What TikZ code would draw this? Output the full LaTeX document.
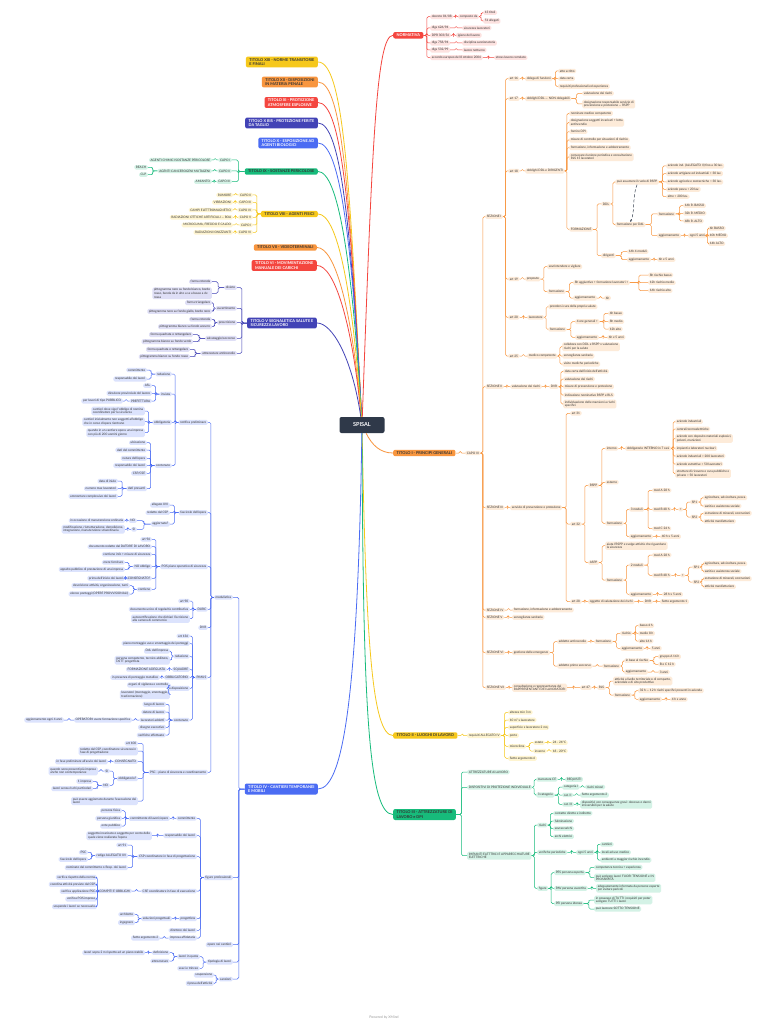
\documentclass[tikz,border=0pt]{standalone}
\usepackage{fontspec}
\setmainfont{Lato}
\usetikzlibrary{calc,arrows.meta}
\definecolor{cRed}{HTML}{F4463F}
\definecolor{lRed}{HTML}{FDE2E0}
\definecolor{cOr}{HTML}{F8963F}
\definecolor{lOr}{HTML}{FDEBD9}
\definecolor{cYe}{HTML}{F6C81C}
\definecolor{lYe}{HTML}{FEF4D0}
\definecolor{cGr}{HTML}{17BB7B}
\definecolor{lGr}{HTML}{D4F2E6}
\definecolor{cBl}{HTML}{4B6CF3}
\definecolor{lBl}{HTML}{DCE3FD}
\definecolor{cIn}{HTML}{4243B6}
\definecolor{lIn}{HTML}{DFDFF6}
\definecolor{cNa}{HTML}{2F3949}
\definecolor{tx}{HTML}{333333}
\newcommand\fs{\fontsize{3.1}{3.6}\selectfont}
\newcommand\fti{\fontsize{3.9}{4.5}\selectfont\bfseries}
\tikzset{
 box/.style={font=\fs, text=tx, inner xsep=1.6pt, inner ysep=1.1pt, rounded corners=1.5pt, align=left},
 rb/.style={box, anchor=west},
 lb/.style={box, anchor=east},
 title/.style={font=\fti, inner xsep=3.4pt, inner ysep=1.8pt, rounded corners=2pt, align=left},
 conn/.style={line width=.5pt, rounded corners=1.5pt},
 main/.style={line width=.8pt},
 rel/.style={draw=cNa, densely dashed, line width=.5pt, -{Stealth[length=2.2pt,width=2pt]}},
}
\newcommand\linkR[2]{\draw[conn] (#1.east) -| ($(#1.east)!.5!(#2.west)$) |- (#2.west);}
\newcommand\linkL[2]{\draw[conn] (#1.west) -| ($(#1.west)!.5!(#2.east)$) |- (#2.east);}
\newcommand\chR[5]{\node[rb] (#2) at (#3,#4) {#5}; \linkR{#1}{#2}}
\newcommand\chL[5]{\node[lb] (#2) at (#3,#4) {#5}; \linkL{#1}{#2}}
\begin{document}
\begin{tikzpicture}[x=1pt,y=-1pt]
\fill[white] (0,0) rectangle (768,1024);
\useasboundingbox (0,0) rectangle (768,1024);
\node[title, fill=cNa, text=white, font=\fontsize{5.5}{6}\selectfont\bfseries, minimum width=45pt, minimum height=16pt, align=center] (sp) at (362,425) {SPISAL};
\node[font=\fontsize{3.5}{4}\selectfont, text=black!40] (ft) at (384,1017) {Powered by XMind};

% ================= NORMATIVA
\begin{scope}[conn/.append style={draw=cRed}, box/.append style={fill=lRed}]
\node[title, fill=cRed, text=white, anchor=west] (norm) at (393,35.3) {NORMATIVA};
\draw[main, cRed] (sp) .. controls (372,150) and (376,35.3) .. (norm.west);
\chR{norm}{n1}{430}{16.7}{decreto 81/08}
\chR{n1}{n1a}{458}{16.7}{composto da}
\chR{n1a}{n1b}{483}{12.7}{13 titoli}
\chR{n1a}{n1c}{483}{21}{51 allegati}
\chR{norm}{n2}{430}{28}{dlgs 626/94}
\chR{n2}{n2a}{462}{28}{sicurezza lavoratori}
\chR{norm}{n3}{430}{35.3}{DPR 303/56}
\chR{n3}{n3a}{456}{35.3}{igiene del lavoro}
\chR{norm}{n4}{430}{43}{dlgs 758/94}
\chR{n4}{n4a}{462}{43}{disciplina sanzionatoria}
\chR{norm}{n5}{430}{50}{dlgs 532/99}
\chR{n5}{n5a}{462}{50}{lavoro notturno}
\chR{norm}{n6}{430}{57.7}{accordo europeo del 8 ottobre 2004}
\chR{n6}{n6a}{494}{57.7}{stress lavoro correlato}
\end{scope}

% ================= TITOLO I
\begin{scope}[conn/.append style={draw=cOr}, box/.append style={fill=lOr}]
\node[title, fill=cOr, text=tx, anchor=west] (t1) at (393,453) {TITOLO I - PRINCIPI GENERALI};
\draw[main, cOr] (sp) .. controls (372,445) and (380,453) .. (t1.west);
\chR{t1}{c3}{465}{453}{CAPO III}
\chR{c3}{s1}{485}{216.7}{SEZIONE I}
\chR{c3}{s2}{485}{386.7}{SEZIONE II}
\chR{c3}{s3}{485}{507.7}{SEZIONE III}
\chR{c3}{s4}{485}{610}{SEZIONE IV}
\chR{c3}{s5}{485}{617.3}{SEZIONE V}
\chR{c3}{s6}{485}{652.7}{SEZIONE VI}
\chR{c3}{s7}{485}{687.7}{SEZIONE VII}
% sezione I
\chR{s1}{a16}{508}{78.7}{art 16}
\chR{a16}{a16a}{525}{78.7}{delega di funzioni}
\chR{a16a}{a16b}{558}{71}{atto scritto}
\chR{a16a}{a16c}{558}{78.7}{data certa}
\chR{a16a}{a16d}{558}{86.3}{requisiti professionali ed esperienza}
\chR{s1}{a17}{508}{98.7}{art 17}
\chR{a17}{a17a}{525}{98.7}{obblighi DDL — NON delegabili}
\chR{a17a}{a17b}{582}{93.3}{valutazione dei rischi}
\chR{a17a}{a17c}{582}{104}{designazione responsabile servizio di\\prevenzione e protezione — RSPP}
\chR{s1}{a18}{508}{171}{art 18}
\chR{a18}{a18a}{525}{171}{obblighi DDL e DIRIGENTI}
\chR{a18a}{b1}{569}{113.3}{nominare medico competente}
\chR{a18a}{b2}{569}{122.5}{designazione soggetti incaricati + lotta\\antincendio}
\chR{a18a}{b3}{569}{131.7}{fornire DPI}
\chR{a18a}{b4}{569}{140}{misure di controllo per situazioni di rischio}
\chR{a18a}{b5}{569}{147.7}{formazione, informazione e addestramento}
\chR{a18a}{b6}{569}{157}{convocare riunione periodica e consultazione\\RLS 15 lavoratori}
\chR{a18a}{form}{569}{229.3}{FORMAZIONE}
\chR{form}{ddl}{601}{204}{DDL}
\chR{form}{dir}{601}{255.7}{dirigenti}
\chR{ddl}{pa}{615}{182}{può assumere il ruolo di RSPP}
\chR{ddl}{fd}{615}{224.7}{formazione per DdL}
\chR{pa}{pa1}{666}{166}{aziende ind. (ALLEGATO II) fino a 30 lav.}
\chR{pa}{pa2}{666}{173.7}{aziende artigiane ed industriali < 30 lav.}
\chR{pa}{pa3}{666}{182}{aziende agricole e zootecniche < 30 lav.}
\chR{pa}{pa4}{666}{189.3}{aziende pesca < 20 lav.}
\chR{pa}{pa5}{666}{196.7}{altre < 200 lav.}
\draw[rel] (pa.south) .. controls +(-5,12) and +(5,-10) .. (fd.north);
\chR{fd}{fd1}{657}{214}{formazione}
\chR{fd}{fd2}{657}{235.7}{aggiornamento}
\chR{fd1}{fd1a}{683}{205.7}{16h R. BASSO}
\chR{fd1}{fd1b}{683}{213.3}{32h R. MEDIO}
\chR{fd1}{fd1c}{683}{221}{48h R. ALTO}
\chR{fd2}{fd2a}{688}{235.7}{ogni 5 anni}
\chR{fd2a}{fd2b}{708}{228.3}{6h BASSO}
\chR{fd2a}{fd2c}{708}{235.7}{10h MEDIO}
\chR{fd2a}{fd2d}{708}{243.7}{14h ALTO}
\chR{dir}{dir1}{627}{251.7}{16h 4 moduli}
\chR{dir}{dir2}{627}{259.7}{aggiornamento}
\chR{dir2}{dir3}{657}{259.7}{6h x 5 anni}
\chR{s1}{a19}{508}{279}{art 19}
\chR{a19}{pre}{525}{279}{preposto}
\chR{pre}{pre1}{547}{266.7}{sovrintendere e vigilare}
\chR{pre}{pre2}{547}{291.7}{formazione}
\chR{pre2}{pre2a}{573}{282.7}{8h aggiuntive + formazione lavoratori +}
\chR{pre2}{pre2b}{573}{298}{aggiornamento}
\chR{pre2b}{pre2c}{604}{298}{6h}
\chR{pre2a}{pre3}{648}{275}{8h rischio basso}
\chR{pre2a}{pre4}{648}{282.7}{12h rischio medio}
\chR{pre2a}{pre5}{648}{290.7}{16h rischio alto}
\chR{s1}{a20}{508}{317.3}{art 20}
\chR{a20}{lav}{527}{317.3}{lavoratore}
\chR{lav}{lav1}{548}{306.7}{prendersi cura della propria salute}
\chR{lav}{lav2}{548}{329.3}{formazione}
\chR{lav2}{lav2a}{575}{321.7}{4 ore generali +}
\chR{lav2}{lav2b}{575}{337.3}{aggiornamento}
\chR{lav2a}{lav3}{608}{313.3}{4h basso}
\chR{lav2a}{lav4}{608}{321.7}{8h medio}
\chR{lav2a}{lav5}{608}{329}{12h alto}
\chR{lav2b}{lav6}{607}{337.3}{6h x 5 anni}
\chR{s1}{a25}{508}{356}{art 25}
\chR{a25}{mc}{527}{356}{medico competente}
\chR{mc}{mc1}{562}{346.7}{collabora con DDL e RSPP x valutazione\\rischi per la salute}
\chR{mc}{mc2}{562}{356}{sorveglianza sanitaria}
\chR{mc}{mc3}{562}{364}{visite mediche periodiche}
% sezione II
\chR{s2}{vr}{510}{386.7}{valutazione dei rischi}
\chR{vr}{dvr}{549}{386.7}{DVR}
\chR{dvr}{dvr1}{563}{371.3}{data certa dall'inizio dell'attività}
\chR{dvr}{dvr2}{563}{379}{valutazione dei rischi}
\chR{dvr}{dvr3}{563}{386.7}{misure di prevenzione e protezione}
\chR{dvr}{dvr4}{563}{395}{indicazione nominativo RSPP e RLS}
\chR{dvr}{dvr5}{563}{404}{individuazione delle mansioni a rischi\\specifici}
% sezione III
\chR{s3}{spp}{510}{507.7}{servizio di prevenzione e protezione}
\chR{spp}{a31}{570}{413.3}{art 31}
\chR{spp}{a32}{570}{524}{art 32}
\chR{spp}{a28}{570}{601.7}{art 28}
\chR{a28}{a28a}{588}{601.7}{oggetto di valutazione dei rischi}
\chR{a28a}{a28b}{643}{601.7}{DVR}
\chR{a28b}{a28c}{660}{601.7}{Sotto argomento 1}
\chR{a32}{rspp}{588}{485.3}{RSPP}
\chR{a32}{aspp}{588}{562.7}{ASPP}
\chR{rspp}{int}{605}{448.3}{interno}
\chR{rspp}{est}{605}{482.3}{esterno}
\chR{rspp}{rf}{605}{523.3}{formazione}
\chR{int}{int1}{625}{448.3}{obbligatorio INTERNO in 7 casi}
\chR{int1}{cs1}{675}{421.7}{aziende industriali}
\chR{int1}{cs2}{675}{429}{centrali termoelettriche}
\chR{int1}{cs3}{675}{438.5}{aziende con deposito materiali esplosivi,\\polveri, munizioni}
\chR{int1}{cs4}{675}{448.3}{impianti e laboratori nucleari}
\chR{int1}{cs5}{675}{456}{aziende industriali > 200 lavoratori}
\chR{int1}{cs6}{675}{464}{aziende estrattive > 50 lavoratori}
\chR{int1}{cs7}{675}{473.5}{strutture di ricovero e cura pubbliche e\\private > 50 lavoratori}
\chR{rf}{rf1}{629}{509.3}{3 moduli}
\chR{rf}{rf2}{629}{536.7}{aggiornamento}
\chR{rf2}{rf3}{660}{536.7}{40 h x 5 anni}
\chR{rf1}{ma}{652}{490.3}{mod A 28 h}
\chR{rf1}{mb}{652}{509.3}{mod B 48 h}
\chR{rf1}{mcx}{652}{528.7}{mod C 24 h}
\chR{mb}{pl}{678}{509.3}{+}
\chR{pl}{sp1}{690}{502}{SP1}
\chR{pl}{sp2}{690}{517}{SP2}
\chR{sp1}{sp1a}{703}{497.7}{agricoltura, selvicoltura, pesca}
\chR{sp1}{sp1b}{703}{506}{sanità e assistenza sociale}
\chR{sp2}{sp2a}{703}{513.3}{estrazione di minerali, costruzioni}
\chR{sp2}{sp2b}{703}{521.3}{attività manifatturiere}
\chR{aspp}{as1}{605}{545.7}{aiuta l'RSPP e svolge attività che riguardano\\la sicurezza}
\chR{aspp}{as2}{605}{580}{formazione}
\chR{as2}{as2a}{629}{565}{2 moduli}
\chR{as2}{as2b}{629}{594.3}{aggiornamento}
\chR{as2b}{as2c}{662}{594.3}{28 h x 5 anni}
\chR{as2a}{ama}{652}{555}{mod A 28 h}
\chR{as2a}{amb}{652}{575.3}{mod B 48 h}
\chR{amb}{apl}{680}{575.3}{+}
\chR{apl}{asp1}{692}{567}{SP1}
\chR{apl}{asp2}{692}{582}{SP2}
\chR{asp1}{asp1a}{703}{563.7}{agricoltura, selvicoltura, pesca}
\chR{asp1}{asp1b}{703}{571.3}{sanità e assistenza sociale}
\chR{asp2}{asp2a}{703}{578.7}{estrazione di minerali, costruzioni}
\chR{asp2}{asp2b}{703}{586.7}{attività manifatturiere}
% sezioni IV - VII
\chR{s4}{s4a}{512}{610}{formazione, informazione e addestramento}
\chR{s5}{s5a}{512}{617.3}{sorveglianza sanitaria}
\chR{s6}{ge}{512}{652.7}{gestione delle emergenze}
\chR{ge}{aa}{557}{641.7}{addetto antincendio}
\chR{ge}{ap}{557}{666}{addetto primo soccorso}
\chR{aa}{aaf}{594}{641.7}{formazione}
\chR{aaf}{aar}{620}{633.3}{rischio}
\chR{aaf}{aag}{620}{648.3}{aggiornamento}
\chR{aar}{aar1}{638}{625.7}{basso 4 h}
\chR{aar}{aar2}{638}{633.3}{medio 8 h}
\chR{aar}{aar3}{638}{641}{alto 16 h}
\chR{aag}{aag1}{650}{648.3}{5 anni}
\chR{ap}{apf}{602}{666}{formazione}
\chR{apf}{apr}{624}{660.7}{in base al rischio}
\chR{apf}{apg}{624}{672}{aggiornamento}
\chR{apr}{apr1}{658}{656.7}{gruppo A 16 h}
\chR{apr}{apr2}{658}{664.3}{B e C 12 h}
\chR{apg}{apg1}{658}{672}{3 anni}
\chR{s7}{cons}{512}{687.7}{consultazione e rappresentanza dei\\RAPPRESENTANTI DEI LAVORATORI}
\chR{cons}{a47}{580}{687.7}{art 47}
\chR{a47}{rls}{597}{687.7}{RLS}
\chR{rls}{rls1}{613}{681}{attività a livello territoriale o di comparto,\\aziendale e di sito produttivo}
\chR{rls}{rls2}{613}{695}{formazione}
\chR{rls2}{rls2a}{638}{690.7}{32 h — 12 h rischi specifici presenti in azienda}
\chR{rls2}{rls2b}{638}{699.3}{aggiornamento}
\chR{rls2b}{rls2c}{670}{699.3}{4 h x anno}
\end{scope}

% ================= TITOLO II
\begin{scope}[conn/.append style={draw=cYe}, box/.append style={fill=lYe}]
\node[title, fill=cYe, text=tx, anchor=west] (t2) at (393,735.5) {TITOLO II - LUOGHI DI LAVORO};
\draw[main, cYe] (sp) .. controls (366,640) and (372,735.5) .. (t2.west);
\chR{t2}{rq}{467}{735.5}{requisiti ALLEGATO IV}
\chR{rq}{rq1}{508}{712.3}{altezza min 3 m}
\chR{rq}{rq2}{508}{720}{10 m³ x lavoratore}
\chR{rq}{rq3}{508}{727.3}{superficie x lavoratore 2 mq}
\chR{rq}{rq4}{508}{735.5}{porte}
\chR{rq}{rq5}{508}{746.3}{microclima}
\chR{rq}{rq6}{508}{758.3}{Sotto argomento 6}
\chR{rq5}{es}{533}{742.7}{estate}
\chR{rq5}{iv}{533}{751}{inverno}
\chR{es}{es1}{551}{742.7}{24 - 26°C}
\chR{iv}{iv1}{551}{751}{18 - 20°C}
\end{scope}

% ================= TITOLO III
\begin{scope}[conn/.append style={draw=cGr}, box/.append style={fill=lGr}]
\node[title, fill=cGr, text=tx, anchor=west] (t3) at (393,814.5) {TITOLO III - ATTREZZATURE DI\\LAVORO e DPI};
\draw[main, cGr] (sp) .. controls (363,700) and (368,814.5) .. (t3.west);
\chR{t3}{att}{467}{772}{ATTREZZATURE di LAVORO}
\chR{t3}{dpi}{467}{787.3}{DISPOSITIVI DI PROTEZIONE INDIVIDUALE}
\chR{t3}{imp}{467}{855.7}{IMPIANTI ELETTRICI E APPARECCHIATURE\\ELETTRICHE}
\chR{dpi}{ce}{536}{779.3}{marcatura CE}
\chR{ce}{ce1}{565}{779.3}{REQUISITI}
\chR{dpi}{cat}{536}{795}{3 categorie}
\chR{cat}{cat1}{562}{787}{categoria I}
\chR{cat1}{cat1a}{585}{787}{rischi minori}
\chR{cat}{cat2}{562}{795}{cat. II}
\chR{cat2}{cat2a}{580}{795}{Sotto argomento 2}
\chR{cat}{cat3}{562}{804.3}{cat. III}
\chR{cat3}{cat3a}{580}{804.3}{dispositivi con conseguenze gravi: decesso o danni\\irreversibili per la salute}
\chR{imp}{ri}{537}{825}{rischi}
\chR{imp}{ver}{537}{852.3}{verifiche periodiche}
\chR{imp}{fig}{537}{888.3}{figure}
\chR{ri}{ri1}{553}{813.3}{contatto diretto e indiretto}
\chR{ri}{ri2}{553}{821}{fulminazione}
\chR{ri}{ri3}{553}{828.7}{sovraccarichi}
\chR{ri}{ri4}{553}{836.7}{archi elettrici}
\chR{ver}{ver1}{576}{852.3}{ogni 5 anni}
\chR{ver1}{ver2}{600}{844.3}{cantieri}
\chR{ver1}{ver3}{600}{852.3}{locali ad uso medico}
\chR{ver1}{ver4}{600}{860}{ambienti a maggior rischio incendio}
\chR{fig}{pes}{554}{872.7}{PES persona esperta}
\chR{fig}{pav}{554}{888.3}{PAV persona avvertita}
\chR{fig}{pei}{554}{903.7}{PEI persona idonea}
\chR{pes}{pes1}{594}{867.3}{competenza tecnica + esperienza}
\chR{pes}{pes2}{594}{877.7}{può svolgere lavori FUORI TENSIONE e IN\\PROSSIMITÀ}
\chR{pav}{pav1}{596}{888.3}{adeguatamente informata da persone esperte\\per evitare pericoli}
\chR{pei}{pei1}{594}{900}{in possesso di TUTTI i requisiti per poter\\svolgere TUTTI i lavori}
\chR{pei}{pei2}{594}{909}{può lavorare SOTTO TENSIONE}
\end{scope}

% ================= LEFT TITLES
\node[title, fill=cYe, text=tx, anchor=east] (t13) at (318,62) {TITOLO XIII - NORME TRANSITORIE\\E FINALI};
\draw[main, cYe] (sp) .. controls (350,187) and (344,62) .. (t13.east);
\node[title, fill=cOr, text=tx, anchor=east] (t12) at (318,82) {TITOLO XII - DISPOSIZIONI\\IN MATERIA PENALE};
\draw[main, cOr] (sp) .. controls (350,200) and (343,82) .. (t12.east);
\node[title, fill=cRed, text=white, anchor=east] (t11) at (318,102.5) {TITOLO XI - PROTEZIONE\\ATMOSFERE ESPLOSIVE};
\draw[main, cRed] (sp) .. controls (351,214) and (342,102.5) .. (t11.east);
\node[title, fill=cIn, text=white, anchor=east] (t10b) at (318,123) {TITOLO X BIS - PROTEZIONE FERITE\\DA TAGLIO};
\draw[main, cIn] (sp) .. controls (351,227) and (341,123) .. (t10b.east);
\node[title, fill=cBl, text=white, anchor=east] (t10) at (318,143) {TITOLO X - ESPOSIZIONE AD\\AGENTI BIOLOGICI};
\draw[main, cBl] (sp) .. controls (352,240) and (340,143) .. (t10.east);
\node[title, fill=cOr, text=tx, anchor=east] (t7) at (317,247.5) {TITOLO VII - VIDEOTERMINALI};
\draw[main, cOr] (sp) .. controls (352,308) and (335,247.5) .. (t7.east);
\node[title, fill=cRed, text=white, anchor=east] (t6) at (317,265.5) {TITOLO VI - MOVIMENTAZIONE\\MANUALE DEI CARICHI};
\draw[main, cRed] (sp) .. controls (352,320) and (334,265.5) .. (t6.east);

% TITOLO IX
\begin{scope}[conn/.append style={draw=cGr}, box/.append style={fill=lGr}]
\node[title, fill=cGr, text=tx, anchor=east] (t9) at (318,171.5) {TITOLO IX - SOSTANZE PERICOLOSE};
\draw[main, cGr] (sp) .. controls (352,259) and (338,171.5) .. (t9.east);
\chL{t9}{g1}{232}{160}{CAPO I}
\chL{g1}{g1a}{212}{160}{AGENTI CHIMICI SOSTANZE PERICOLOSE}
\chL{t9}{g2}{232}{171}{CAPO II}
\chL{g2}{g2a}{212}{171}{AGENTI CANCEROGENI MUTAGENI}
\chL{g2a}{g2b}{148}{167.3}{REACH}
\chL{g2a}{g2c}{148}{174.7}{CLP}
\chL{t9}{g3}{232}{181.7}{CAPO III}
\chL{g3}{g3a}{212}{181.7}{AMIANTO}
\end{scope}

% TITOLO VIII
\begin{scope}[conn/.append style={draw=cYe}, box/.append style={fill=lYe}]
\node[title, fill=cYe, text=tx, anchor=east] (t8) at (318,214) {TITOLO VIII - AGENTI FISICI};
\draw[main, cYe] (sp) .. controls (352,286) and (337,214) .. (t8.east);
\chL{t8}{k1}{253}{195}{CAPO II}
\chL{k1}{k1a}{233}{195}{RUMORE}
\chL{t8}{k2}{253}{202.3}{CAPO III}
\chL{k2}{k2a}{233}{202.3}{VIBRAZIONI}
\chL{t8}{k3}{253}{210}{CAPO IV}
\chL{k3}{k3a}{233}{210}{CAMPI ELETTROMAGNETICI}
\chL{t8}{k4}{253}{217.3}{CAPO V}
\chL{k4}{k4a}{233}{217.3}{RADIAZIONI OTTICHE ARTIFICIALI — ROA}
\chL{t8}{k5}{253}{225}{CAPO I}
\chL{k5}{k5a}{233}{225}{MICROCLIMA, FREDDO E CALDO}
\chL{t8}{k6}{253}{232.3}{CAPO VI}
\chL{k6}{k6a}{233}{232.3}{RADIAZIONI IONIZZANTI}
\end{scope}

% TITOLO V
\begin{scope}[conn/.append style={draw=cIn}, box/.append style={fill=lIn}]
\node[title, fill=cIn, text=white, anchor=east] (t5) at (317,323) {TITOLO V SEGNALETICA SALUTE E\\SICUREZZA LAVORO};
\draw[main, cIn] (sp) .. controls (352,357) and (332,323) .. (t5.east);
\chL{t5}{dv}{237}{287.7}{divieto}
\chL{t5}{av}{237}{308.3}{avvertimento}
\chL{t5}{pz}{237}{322.7}{prescrizione}
\chL{t5}{sv}{237}{338.3}{salvataggio/soccorso}
\chL{t5}{ai}{237}{353.3}{attrezzature antincendio}
\chL{dv}{dv1}{212}{281.7}{forma rotonda}
\chL{dv}{dv2}{212}{293.3}{pittogramma nero su fondo bianco, bordo\\rosso, banda da in alto a sx a basso a dx\\rossa}
\chL{av}{av1}{212}{302.7}{forma triangolare}
\chL{av}{av2}{212}{311.3}{pittogramma nero su fondo giallo, bordo nero}
\chL{pz}{pz1}{212}{319.3}{forma rotonda}
\chL{pz}{pz2}{212}{326.7}{pittogramma bianco su fondo azzurro}
\chL{sv}{sv1}{193}{334.7}{forma quadrata o rettangolare}
\chL{sv}{sv2}{193}{341.7}{pittogramma bianco su fondo verde}
\chL{ai}{ai1}{190}{349.3}{forma quadrata o rettangolare}
\chL{ai}{ai2}{190}{356.7}{pittogramma bianco su fondo rosso}
\end{scope}

% TITOLO IV
\begin{scope}[conn/.append style={draw=cBl}, box/.append style={fill=lBl}]
\node[title, fill=cBl, text=white, anchor=east] (t4) at (318,789) {TITOLO IV - CANTIERI TEMPORANEI\\E MOBILI};
\draw[main, cBl] (sp) .. controls (358,680) and (345,789) .. (t4.east);
\chL{t4}{mod}{233}{597.3}{modulistica}
\chL{t4}{figp}{233}{877.7}{figure professionali}
\chL{t4}{opc}{233}{944.7}{opere nei cantieri}
\chL{t4}{tip}{233}{962}{tipologia di lavori}
\chL{t4}{san}{233}{979}{sanzioni}
\chL{mod}{np}{208}{422.3}{notifica preliminare}
\chL{mod}{fo}{208}{512.7}{fascicolo dell'opera}
\chL{mod}{pos}{208}{566.7}{POS piano operativo di sicurezza}
\chL{mod}{durc}{208}{609.3}{DURC}
\chL{mod}{mdvr}{208}{627.7}{DVR}
\chL{mod}{pim}{208}{677.3}{PIMUS}
\chL{mod}{psc}{208}{772.3}{PSC - piano di sicurezza e coordinamento}
% notifica
\chL{np}{npr}{172}{374}{redazione}
\chL{np}{npi}{172}{394}{inviata}
\chL{np}{npo}{172}{422.3}{obbligatoria}
\chL{np}{npc}{172}{465.7}{contenuto}
\chL{npr}{npr1}{147}{370}{committente}
\chL{npr}{npr2}{147}{379}{responsabile dei lavori}
\chL{npi}{npi1}{152}{385.7}{ASL}
\chL{npi}{npi2}{152}{393.3}{direzione provinciale del lavoro}
\chL{npi}{npi3}{152}{401}{PREFETTURA}
\chL{npi3}{npi4}{123}{401}{per lavori di tipo PUBBLICO}
\chL{npo}{npo1}{145}{411}{cantieri dove vige l'obbligo di nomina\\coordinatore per la sicurezza}
\chL{npo}{npo2}{145}{421.7}{cantieri inizialmente non soggetti all'obbligo\\che in corso d'opera rientrano}
\chL{npo}{npo3}{145}{432.7}{quando in un cantiere opera una impresa\\con più di 200 uomini giorno}
\chL{npc}{npc1}{147}{442.7}{ubicazione}
\chL{npc}{npc2}{147}{450}{dati del committente}
\chL{npc}{npc3}{147}{458.3}{natura dell'opera}
\chL{npc}{npc4}{147}{465.7}{responsabile dei lavori}
\chL{npc}{npc5}{147}{473.3}{CSP/CSE}
\chL{npc}{dp}{147}{488.7}{dati presunti}
\chL{dp}{dp1}{118}{481}{data di inizio}
\chL{dp}{dp2}{118}{488.7}{numero max lavoratori}
\chL{dp}{dp3}{118}{496.3}{ammontare complessivo dei lavori}
% fascicolo
\chL{fo}{fo1}{170}{505}{allegato XVI}
\chL{fo}{fo2}{170}{512.7}{redatto dal CSP}
\chL{fo}{foa}{170}{524}{aggiornato?}
\chL{foa}{fno}{137}{520.7}{NO}
\chL{foa}{fsi}{137}{529.3}{SI}
\chL{fno}{fno1}{125}{520.7}{in occasione di manutenzione ordinaria}
\chL{fsi}{fsi1}{125}{529.3}{modificazione, ristrutturazione, demolizione,\\integrazione, manutenzione straordinaria}
% POS
\chL{pos}{pos1}{152}{539.3}{art 96}
\chL{pos}{pos2}{152}{546.7}{documento redatto dal DATORE DI LAVORO}
\chL{pos}{pos3}{152}{554.3}{contiene info + misure di sicurezza}
\chL{pos}{pno}{152}{566.7}{NO obbligo}
\chL{pno}{pno1}{125}{562.3}{mere forniture}
\chL{pno}{pno2}{125}{569.3}{appalto pubblico di prestazione di una impresa}
\chL{pos}{pcons}{152}{578.3}{CONSEGNATO?}
\chL{pcons}{pcons1}{125}{578.3}{prima dell'inizio dei lavori}
\chL{pos}{pcont}{152}{589.3}{contiene}
\chL{pcont}{pcont1}{130}{585.7}{descrizione attività, organizzazione, turni}
\chL{pcont}{pcont2}{130}{594}{elenco ponteggi (OPERE PROVVISIONALI)}
% DURC
\chL{durc}{du1}{190}{601}{art 90}
\chL{durc}{du2}{190}{609.3}{documento unico di regolarità contributiva}
\chL{durc}{du3}{190}{618.7}{autocertificazione che dichiari l'iscrizione\\alla camera di commercio}
% PIMUS
\chL{pim}{pm1}{190}{636}{art 136}
\chL{pim}{pm2}{190}{643.3}{piano montaggio uso e smontaggio dei ponteggi}
\chL{pim}{pr}{190}{656.3}{redazione}
\chL{pr}{pr1}{170}{651}{DdL dell'impresa}
\chL{pr}{pr2}{170}{660.3}{persona competente, tecnico abilitato,\\DSTT progettista}
\chL{pim}{psq}{190}{669.3}{SQUADRE}
\chL{psq}{psq1}{167}{669.3}{FORMAZIONE ADEGUATA}
\chL{pim}{pob}{190}{677.3}{OBBLIGATORIO}
\chL{pob}{pob1}{160}{677.3}{in presenza di ponteggio metallico}
\chL{pim}{pdis}{190}{688.3}{a disposizione}
\chL{pdis}{pdis1}{170}{685}{organi di vigilanza e controllo}
\chL{pdis}{pdis2}{170}{694.7}{lavoratori (montaggio, smontaggio,\\trasformazione)}
\chL{pim}{pcn}{190}{720}{contenuto}
\chL{pcn}{pcn1}{166}{704.3}{luogo di lavoro}
\chL{pcn}{pcn2}{166}{712}{datore di lavoro}
\chL{pcn}{pla}{166}{720}{lavoratori addetti}
\chL{pla}{pla1}{132}{720}{OPERATORI: avere formazione specifica}
\chL{pla1}{pla2}{64}{720}{aggiornamento ogni 4 anni}
\chL{pcn}{pcn4}{166}{727.3}{disegno esecutivo}
\chL{pcn}{pcn5}{166}{735}{verifiche effettuate}
% PSC
\chL{psc}{ps1}{138}{743.3}{art 100}
\chL{psc}{ps2}{138}{751}{redatto dal CSP, coordinatore sicurezza in\\fase di progettazione}
\chL{psc}{pscc}{138}{761.7}{CONSEGNATO}
\chL{pscc}{pscc1}{108}{761.7}{in fase preliminare all'avvio dei lavori}
\chL{psc}{pso}{138}{778.7}{obbligatorio?}
\chL{pso}{psi}{110}{771}{SI}
\chL{psi}{psi1}{98}{771}{quando sono presenti più imprese\\anche non contemporanee}
\chL{pso}{psno}{110}{785.3}{NO}
\chL{psno}{psno1}{93}{781.3}{1 impresa}
\chL{psno}{psno2}{93}{788.7}{lavori senza rischi particolari}
\chL{psc}{ps5}{138}{801}{può essere aggiornato durante l'esecuzione dei\\lavori}
% figure professionali
\chL{figp}{com}{197}{818.3}{committente}
\chL{figp}{rdl}{197}{835.7}{responsabile dei lavori}
\chL{figp}{csp}{197}{856.7}{CSP coordinatore in fase di progettazione}
\chL{figp}{cse}{197}{891}{CSE coordinatore in fase di esecuzione}
\chL{figp}{prg}{197}{918.7}{progettista}
\chL{figp}{dl}{197}{930.3}{direttore dei lavori}
\chL{figp}{ia}{197}{938}{impresa affidataria}
\chL{com}{com1}{170}{818.3}{committente di lavori/opere}
\chL{com1}{com2}{122}{810.7}{persona fisica}
\chL{com1}{com3}{122}{818.3}{persona giuridica}
\chL{com1}{com4}{122}{826}{ente pubblico}
\chL{rdl}{rdl1}{152}{835.7}{soggetto incaricato o soggetto per conto dello\\quale viene realizzata l'opera}
\chL{csp}{csp1}{128}{845}{art 91}
\chL{csp}{cspr}{128}{855.7}{redige ALLEGATO XV}
\chL{cspr}{cspr1}{88}{852.3}{PSC}
\chL{cspr}{cspr2}{88}{859.3}{fascicolo dell'opera}
\chL{csp}{csp3}{128}{867.7}{nominato dal committente o Resp. dei lavori}
\chL{cse}{cse1}{132}{891}{COMPITI E OBBLIGHI}
\chL{cse1}{cse2}{97}{877.3}{verifica rispetto della norma}
\chL{cse1}{cse3}{97}{884.3}{coordina attività previste dal CSP}
\chL{cse1}{cse4}{97}{891.3}{verifica applicazione PSC}
\chL{cse1}{cse5}{97}{899}{verifica POS imprese}
\chL{cse1}{cse6}{97}{906.7}{sospende i lavori se necessario}
\chL{prg}{prg1}{172}{918.7}{soluzioni progettuali}
\chL{prg1}{prg2}{135}{914.3}{architetto}
\chL{prg1}{prg3}{135}{922.7}{ingegnere}
\chL{ia}{ia1}{160}{938}{Sotto argomento 2}
% tipologia / sanzioni
\chL{tip}{lq}{200}{956.7}{lavori in quota}
\chL{tip}{sc}{200}{968.3}{scavi e trincee}
\chL{lq}{lqd}{170}{952.7}{definizione}
\chL{lqd}{lqd1}{145}{952.7}{lavori sopra 2 m rispetto ad un piano stabile}
\chL{lq}{lqa}{170}{961}{attrezzature}
\chL{san}{san1}{214}{975}{sospensione}
\chL{san}{san2}{214}{983.3}{ripresa dell'attività}
\end{scope}
\end{tikzpicture}
\end{document}
